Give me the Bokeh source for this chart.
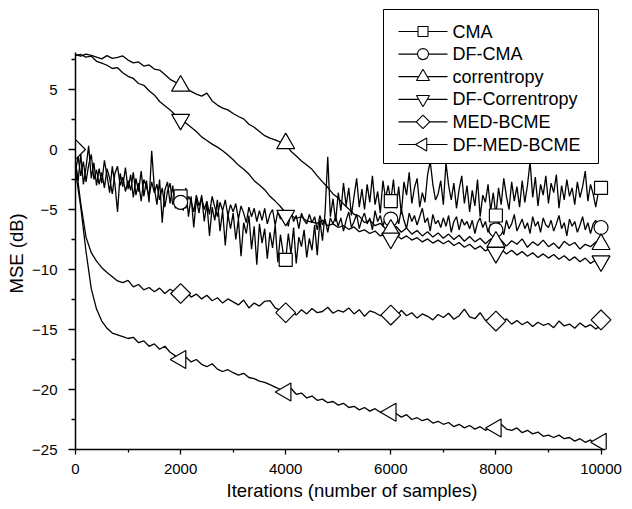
import math
from bokeh.plotting import figure
from bokeh.models import Range1d, FixedTicker, Title
from bokeh.core.properties import value
from bokeh.embed import file_html
from bokeh.resources import INLINE

# sample grids (iterations)
iters_fine = list(range(0, 10001, 50))
iters = list(range(0, 10001, 100))

# CMA (every 50 samples)
cma = [
    -1.2, -2.6, -0.4, -2.9, -1.5, 0.3, -2.4, -1.1, -3.0, -1.6,
    -2.8, -0.9, -2.2, -3.6, -1.4, -2.9, -5.2, -2.0, -3.1, -1.5,
    -3.3, -2.1, -4.0, -2.4, -3.5, -1.8, -3.9, -2.6, -4.4, -0.1,
    -3.2, -4.6, -2.5, -6.1, -3.4, -2.7, -4.5, -3.0, -4.9, -3.3,
    -4.0, -5.1, -3.2, -5.6, -3.9, -6.5, -4.1, -5.3, -3.8, -6.0,
    -4.5, -7.2, -4.8, -5.9, -4.2, -6.8, -5.1, -8.0, -5.4, -6.6,
    -5.3, -7.5, -5.8, -8.9, -6.1, -7.0, -5.5, -8.3, -6.4, -9.6,
    -6.2, -7.8, -6.6, -9.1, -6.9, -8.2, -6.3, -9.4, -7.1, -8.6,
    -9.2, -7.0, -8.7, -6.5, -9.5, -7.3, -8.1, -6.7, -9.0, -7.4,
    -8.4, -6.3, -8.8, -5.9, -7.6, -5.2, -0.6, -5.6, -4.1, -6.0,
    -3.6, -5.1, -2.8, -4.7, -3.2, -5.5, -3.9, -2.4, -4.8, -3.3,
    -5.0, -2.9, -4.4, -2.2, -4.6, -3.5, -5.3, -2.6, -4.1, -3.0,
    -4.3, -2.5, -4.9, -3.1, -5.4, -2.7, -3.8, -1.9, -4.5, -3.2,
    -2.4, -4.8, -3.6, -4.4, -2.1, -1.0, -2.9, -4.2, -3.7, -2.6,
    -4.6, -1.1, -3.0, -4.2, -2.8, -4.9, -3.3, -2.2, -4.5, -3.0,
    -5.2, -3.4, -4.7, -2.5, -5.6, -3.8, -4.4, -2.9, -5.1, -3.6,
    -5.5, -3.2, -4.6, -2.4, -3.9, -5.0, -2.7, -4.3, -3.1, -4.8,
    -2.6, -4.4, -3.0, -1.0, -4.0, -2.3, -4.7, -2.9, -3.8, -2.2,
    -4.5, -2.8, -3.6, -2.1, -4.9, -3.0, -4.2, -2.5, -3.9, -3.2,
    -4.6, -2.7, -4.0, -3.1, -1.8, -4.3, -2.9, -3.7, -4.8, -3.5,
    -3.3,
]

# DF-CMA (every 50 samples)
df_cma = [
    -1.8, -0.6, -2.2, -1.0, -2.7, -1.3, -0.4, -2.5, -1.7, -2.9,
    -1.9, -3.2, -1.6, -2.4, -3.7, -2.0, -1.4, -3.0, -2.3, -3.5,
    -2.6, -3.4, -1.9, -3.8, -2.8, -4.3, -2.5, -3.1, -3.9, -2.7,
    -3.6, -2.9, -4.2, -3.2, -4.8, -3.5, -2.8, -4.6, -3.7, -4.1,
    -4.4, -3.6, -4.9, -3.9, -4.3, -5.2, -3.8, -4.7, -4.0, -5.0,
    -4.3, -5.4, -3.9, -4.8, -5.6, -4.4, -5.1, -4.2, -5.5, -4.6,
    -5.2, -4.5, -5.8, -4.7, -5.3, -6.1, -4.8, -5.6, -4.9, -6.0,
    -5.1, -5.9, -4.9, -6.2, -5.4, -5.0, -6.3, -5.2, -5.8, -5.3,
    -5.6, -6.4, -5.1, -6.0, -5.5, -6.6, -5.3, -5.9, -6.2, -5.4,
    -6.1, -5.6, -6.7, -5.5, -6.3, -5.8, -6.9, -5.7, -6.2, -5.6,
    -6.4, -5.7, -6.8, -5.9, -5.2, -6.5, -6.0, -5.4, -6.6, -5.8,
    -5.3, -6.2, -5.7, -6.7, -5.1, -6.0, -5.5, -6.4, -5.6, -6.1,
    -5.8, -6.5, -5.4, -6.2, -5.0, -5.9, -6.6, -5.3, -6.0, -5.5,
    -6.3, -5.6, -4.9, -6.1, -5.7, -6.8, -5.4, -6.2, -5.9, -6.5,
    -5.7, -6.4, -5.5, -6.9, -6.0, -5.6, -6.7, -5.8, -6.3, -6.0,
    -6.6, -5.9, -7.0, -6.1, -5.7, -6.5, -6.0, -6.9, -6.2, -6.4,
    -6.7, -6.0, -6.5, -7.1, -5.9, -6.6, -6.2, -5.4, -6.8, -6.3,
    -5.8, -6.6, -6.1, -7.0, -5.6, -6.4, -6.0, -6.9, -5.7, -6.3,
    -6.5, -5.9, -6.8, -6.2, -5.5, -6.6, -6.1, -7.2, -5.8, -6.4,
    -6.0, -6.9, -6.3, -5.6, -6.7, -6.1, -7.0, -6.2, -5.9, -6.6,
    -6.5,
]

# correntropy (every 100 samples)
corr = [
    7.90, 7.78, 7.95, 7.84, 7.70, 7.55, 7.82, 7.60, 7.68, 7.80,
    7.45, 7.22, 7.30, 6.95, 7.05, 6.70, 6.62, 6.25, 5.85, 5.62,
    5.30, 5.05, 4.85, 4.62, 4.45, 4.70, 4.05, 3.70, 3.45, 3.30,
    3.00, 2.75, 2.55, 2.10, 1.85, 1.50, 1.15, 0.95, 0.80, 0.62,
    0.45, -0.15, -0.55, -0.95, -1.30, -1.65, -2.20, -2.70, -3.15, -3.70,
    -4.05, -4.55, -4.95, -5.40, -5.55, -6.10, -5.90, -6.35, -6.15, -6.60,
    -6.70, -6.40, -6.90, -6.55, -7.05, -6.75, -7.20, -6.85, -7.30, -6.95,
    -7.40, -7.05, -7.50, -7.15, -7.65, -7.25, -7.70, -7.40, -7.85, -7.45,
    -7.75, -7.55, -8.05, -7.60, -7.90, -7.45, -8.15, -7.70, -8.00, -7.55,
    -8.10, -7.80, -8.25, -7.65, -8.00, -7.75, -8.30, -7.90, -8.10, -7.70,
    -7.95,
]

# DF-Correntropy (every 100 samples)
df_corr = [
    7.85, 7.92, 7.70, 7.78, 7.35, 7.20, 7.02, 6.75, 6.82, 6.40,
    6.10, 5.92, 5.50, 5.35, 4.90, 4.55, 4.00, 3.65, 3.30, 2.85,
    2.45, 2.20, 1.85, 1.50, 1.05, 0.75, 0.45, 0.20, -0.10, -0.45,
    -0.85, -1.30, -1.65, -2.05, -2.60, -2.95, -3.35, -3.90, -4.30, -4.75,
    -5.30, -5.50, -5.75, -5.60, -5.95, -6.05, -6.15, -5.90, -6.35, -6.20,
    -6.50, -6.35, -6.65, -6.45, -6.85, -6.70, -7.00, -6.80, -7.20, -7.05,
    -7.30, -7.10, -7.45, -7.20, -7.55, -7.35, -7.70, -7.45, -7.80, -7.55,
    -7.85, -7.60, -8.00, -7.75, -8.15, -7.90, -8.30, -8.05, -8.45, -8.20,
    -8.55, -8.30, -8.70, -8.40, -8.80, -8.50, -8.90, -8.60, -9.00, -8.70,
    -9.05, -8.75, -9.15, -8.85, -9.25, -8.95, -9.35, -9.05, -9.50, -9.20,
    -9.40,
]

# MED-BCME (every 100 samples)
med = [
    -1.00, -4.50, -7.30, -8.60, -9.30, -9.85, -10.25, -10.60, -10.95, -11.10,
    -10.90, -11.45, -11.25, -11.70, -11.50, -11.85, -11.55, -12.00, -11.65, -11.90,
    -12.00, -11.75, -12.30, -12.05, -12.45, -12.15, -12.60, -12.35, -12.80, -12.45,
    -12.70, -12.95, -12.55, -13.20, -12.80, -13.05, -12.65, -12.60, -13.20, -13.40,
    -13.60, -13.45, -13.80, -13.35, -13.70, -13.25, -13.60, -13.50, -13.15, -13.65,
    -13.40, -13.55, -13.20, -13.70, -13.35, -13.90, -13.45, -13.60, -13.85, -13.55,
    -13.80, -13.95, -13.40, -13.85, -13.60, -14.05, -13.70, -13.90, -14.20, -13.75,
    -14.00, -13.65, -14.15, -13.85, -13.30, -13.95, -14.10, -13.60, -14.25, -14.05,
    -14.30, -14.45, -14.10, -14.55, -14.25, -14.60, -14.35, -14.75, -14.40, -14.65,
    -14.50, -14.85, -14.30, -14.70, -14.55, -14.90, -14.45, -14.80, -14.60, -14.95,
    -14.70,
]

# DF-MED-BCME (every 100 samples)
df_med = [
    -1.80, -4.80, -8.50, -11.60, -13.30, -14.30, -14.90, -15.30, -15.45, -15.60,
    -15.75, -15.65, -16.10, -15.95, -16.40, -16.20, -16.65, -16.40, -16.90, -17.20,
    -17.50, -17.30, -17.70, -17.50, -17.90, -18.10, -17.85, -18.30, -18.50, -18.35,
    -18.60, -18.80, -18.65, -19.00, -19.10, -19.30, -19.40, -19.60, -19.80, -20.00,
    -20.20, -19.90, -20.40, -20.30, -20.70, -20.55, -20.90, -20.80, -21.10, -21.00,
    -21.30, -21.15, -21.50, -21.40, -21.70, -21.50, -21.80, -21.60, -21.90, -21.75,
    -21.90, -22.00, -22.30, -22.10, -22.50, -22.35, -22.60, -22.45, -22.80, -22.65,
    -22.90, -22.75, -23.10, -22.90, -23.20, -23.00, -23.30, -23.10, -23.40, -23.20,
    -23.10, -22.90, -23.30, -23.40, -23.20, -23.60, -23.40, -23.70, -23.55, -23.90,
    -23.80, -24.00, -23.80, -24.10, -24.00, -24.30, -24.10, -24.40, -24.20, -24.60,
    -24.30,
]

# marker positions
cma_mx = [2000, 4000, 6000, 8000, 10000]
cma_my = [-3.9, -9.2, -4.3, -5.5, -3.2]
dfcma_mx = [0, 2000, 6000, 8000, 10000]
dfcma_my = [0.0, -4.4, -5.8, -6.7, -6.5]
corr_mx = [2000, 4000, 6000, 8000, 10000]
corr_my = [5.3, 0.5, -6.7, -7.7, -7.9]
dfcorr_mx = [2000, 4000, 6000, 8000, 10000]
dfcorr_my = [2.5, -5.5, -7.4, -8.6, -9.3]
med_mx = [0, 2000, 4000, 6000, 8000, 10000]
med_my = [0.0, -12.0, -13.6, -13.8, -14.3, -14.2]
dfmed_mx = [2000, 4000, 6000, 8000, 10000]
dfmed_my = [-17.5, -20.2, -21.9, -23.2, -24.4]

labels = ["CMA", "DF-CMA", "correntropy", "DF-Correntropy", "MED-BCME", "DF-MED-BCME"]
x_ticks = [0, 2000, 4000, 6000, 8000, 10000]
x_minor = [1000, 3000, 5000, 7000, 9000]
y_ticks = [-25, -20, -15, -10, -5, 0, 5]
y_minor = [-22.5, -17.5, -12.5, -7.5, -2.5, 2.5, 7.5]

FONT = "Liberation Sans"
FW, FH = 553, 441           # frame size in pixels
PX_PER_UNIT_Y = 12.0
X_END = 10523
Y_TOP_AXIS = 8.08

p = figure(frame_width=FW, frame_height=FH, output_backend="svg", toolbar_location=None,
           x_range=Range1d(0, X_END), y_range=Range1d(-25, -25 + FH / PX_PER_UNIT_Y),
           min_border_left=75, min_border_right=0, min_border_top=8,
           min_border_bottom=58)
p.extra_x_ranges = {"px": Range1d(0, FW)}
p.extra_y_ranges = {"px": Range1d(0, FH)}
p.outline_line_color = None
p.xgrid.visible = False
p.ygrid.visible = False
p.background_fill_color = "white"

for ax, ticks, minor, bounds in ((p.xaxis[0], x_ticks, x_minor, (0, 10080)),
                                 (p.yaxis[0], y_ticks, y_minor, (-25, Y_TOP_AXIS))):
    ax.ticker = FixedTicker(ticks=ticks, minor_ticks=minor)
    ax.bounds = bounds
    ax.axis_line_color = "black"
    ax.axis_line_width = 1.5
    ax.major_tick_line_color = "black"
    ax.minor_tick_line_color = "black"
    ax.major_tick_line_width = 1.3
    ax.minor_tick_line_width = 1.3
    ax.major_tick_in = 0
    ax.minor_tick_in = 0
    ax.major_label_text_font = FONT
    ax.major_label_text_font_size = "15px"
    ax.major_label_text_color = "black"
    ax.axis_label_text_font = FONT
    ax.axis_label_text_font_size = "18.5px"
    ax.axis_label_text_font_style = "normal"
    ax.axis_label_text_color = "black"

p.xaxis.major_tick_out = 5
p.xaxis.minor_tick_out = 3
p.yaxis.major_tick_out = 7
p.yaxis.minor_tick_out = 4
p.xaxis.major_label_standoff = 9
p.yaxis.major_label_standoff = 11
p.xaxis.axis_label_standoff = 3
p.xaxis.axis_label = "Iterations (number of samples)"

ylab = Title(text="MSE (dB)", align="left", offset=156, vertical_align="middle",
             text_font=FONT, text_font_size="18.5px", text_font_style="normal",
             text_color="black", standoff=4)
p.add_layout(ylab, "left")

LW = 1.3
lines = [
    p.line(iters_fine, cma, line_color="black", line_width=LW),
    p.line(iters_fine, df_cma, line_color="black", line_width=LW),
    p.line(iters, corr, line_color="black", line_width=LW),
    p.line(iters, df_corr, line_color="black", line_width=LW),
    p.line(iters, med, line_color="black", line_width=LW),
    p.line(iters, df_med, line_color="black", line_width=LW),
]

mk = dict(fill_color="white", line_color="black", line_width=1.2)
p.scatter(cma_mx, cma_my, marker="square", size=13, **mk)
p.scatter(dfcma_mx, dfcma_my, marker="circle", size=14, **mk)
p.scatter(corr_mx, corr_my, marker="triangle", size=18, **mk)
p.scatter(dfcorr_mx, dfcorr_my, marker="inverted_triangle", size=18, **mk)
p.scatter(med_mx, med_my, marker="square", angle=math.pi / 4, size=14, **mk)
p.scatter(dfmed_mx, dfmed_my, marker="triangle", angle=math.pi / 2, size=18, **mk)

# ---- legend box, drawn in frame-pixel space ----
LEG_L, LEG_R, LEG_B, LEG_T = 308, 523, 286, 440
ROW0, PITCH = 418, 22.6
GL_X0, GL_X1, TXT_X = 323, 372, 377
MK_X = (GL_X0 + GL_X1) / 2
rows = [ROW0 - PITCH * i for i in range(len(labels))]
pxr = dict(x_range_name="px", y_range_name="px")

p.quad(left=[LEG_L], right=[LEG_R], bottom=[LEG_B], top=[LEG_T], fill_color="white",
       line_color="black", line_width=1, **pxr)
p.segment(x0=[GL_X0] * len(rows), x1=[GL_X1] * len(rows), y0=rows, y1=rows,
          line_color="black", line_width=1.2, **pxr)
leg_markers = [("square", 0, 10), ("circle", 0, 11), ("triangle", 0, 13),
               ("inverted_triangle", 0, 13), ("square", math.pi / 4, 9.5),
               ("triangle", math.pi / 2, 13)]
for (m, ang, sz), ry in zip(leg_markers, rows):
    p.scatter([MK_X], [ry], marker=m, angle=ang, size=sz, fill_color="white",
              line_color="black", line_width=1.1, **pxr)
p.text(x=[TXT_X] * len(rows), y=rows, text=labels, text_font=value(FONT),
       text_font_size="18px", text_baseline="middle", text_align="left",
       text_color="black", **pxr)

open("out.html", "w").write(file_html(p, INLINE))
